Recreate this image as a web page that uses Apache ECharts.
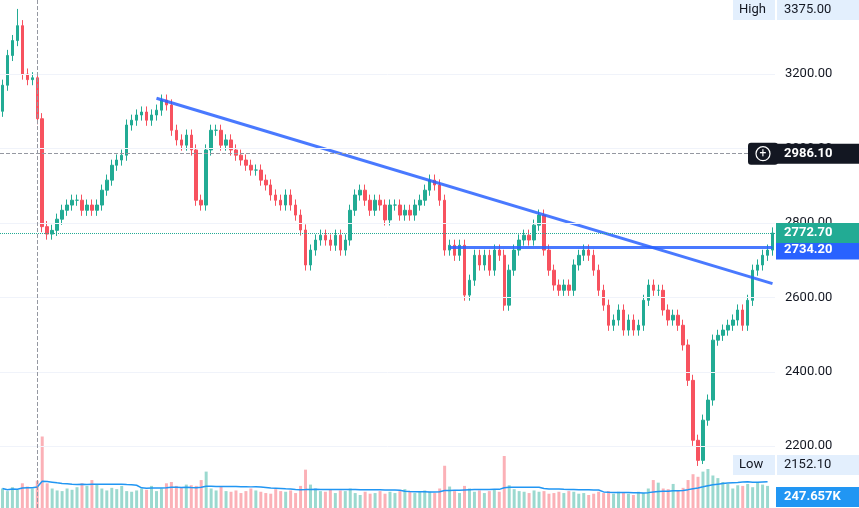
<!DOCTYPE html>
<html><head><meta charset="utf-8">
<script src="https://cdn.jsdelivr.net/npm/echarts@6/dist/echarts.min.js"></script>
<style>html,body{margin:0;padding:0;background:#fff}#c{width:859px;height:508px}</style>
</head><body><div id="c"></div>
<script>
const closes=[3170,3250,3290,3330,3200,3185,3190,3080,2790,2770,2780,2810,2834,2848,2861,2861,2834,2848,2834,2848,2888,2915,2955,2969,2982,3063,3076,3090,3098,3076,3090,3103,3130,3117,3049,3023,3009,3036,2996,2861,2848,2996,3049,3049,3009,3023,2996,2982,2969,2955,2942,2942,2915,2902,2875,2861,2848,2875,2848,2821,2781,2687,2727,2754,2767,2754,2740,2767,2727,2754,2834,2875,2888,2861,2834,2861,2848,2808,2848,2848,2821,2834,2821,2848,2861,2888,2915,2902,2861,2727,2740,2713,2740,2606,2646,2713,2687,2713,2673,2727,2713,2579,2673,2727,2754,2767,2754,2794,2821,2727,2673,2633,2619,2633,2619,2687,2713,2727,2713,2673,2619,2579,2525,2539,2566,2512,2539,2512,2525,2592,2633,2619,2619,2566,2539,2552,2525,2472,2377,2216,2162,2270,2324,2485,2498,2512,2525,2539,2566,2525,2592,2673,2687,2713,2727,2773];
const volumes=[300,260,320,280,380,330,300,420,1100,380,300,270,260,300,280,320,380,340,430,360,300,270,310,290,340,260,250,270,300,280,340,260,300,380,400,340,310,360,350,340,430,560,300,270,330,260,250,270,230,260,300,270,250,230,220,290,260,250,270,230,340,590,360,300,260,250,290,230,270,260,300,230,200,250,220,230,260,220,250,230,260,290,250,230,260,270,250,230,300,650,330,260,230,340,300,250,270,230,260,290,250,800,350,290,260,250,230,270,250,260,220,230,250,230,260,250,220,230,200,220,250,230,260,220,250,230,220,200,250,230,300,430,390,300,290,370,270,310,430,520,480,560,600,500,460,400,370,300,350,340,370,320,400,360,340];
const priceTicks=[2200,2400,2600,2800,3000,3200];
const opens=closes.map((c,i)=>i===0?3100:closes[i-1]);
const highs=closes.map((c,i)=>Math.max(c,opens[i])+15);
const lows=closes.map((c,i)=>Math.min(c,opens[i])-15);
highs[3]=3375; lows[141]=2152.1;
const cats=closes.map((c,i)=>String(i));
const ohlc=closes.map((c,i)=>[opens[i],c,lows[i],highs[i]]);
const volData=volumes.map((v,i)=>({value:v,itemStyle:{color:closes[i]>=opens[i]?'rgba(34,171,148,0.45)':'rgba(247,82,95,0.45)'}}));
const ma=volumes.map((v,i)=>{const s=volumes.slice(Math.max(0,i-19),i+1);return s.reduce((a,b)=>a+b,0)/s.length;});
const N=closes.length-1;
const chart=echarts.init(document.getElementById('c'));
chart.setOption({
 animation:false,
 grid:[{left:0,right:84,top:0,bottom:0},{left:0,right:84,top:430,bottom:0}],
 xAxis:[{type:'category',data:cats,gridIndex:0,axisLine:{show:false},axisTick:{show:false},axisLabel:{show:false},splitLine:{show:false}},
        {type:'category',data:cats,gridIndex:1,show:false}],
 yAxis:[{type:'value',position:'right',min:2034,max:3399,gridIndex:0,
   axisLine:{show:false},axisTick:{show:false,customValues:priceTicks},splitLine:{show:false},
   axisLabel:{customValues:priceTicks,color:'#131722',fontSize:13,fontFamily:'Roboto',margin:10,formatter:v=>v.toFixed(2)}},
   {type:'value',gridIndex:1,max:1200,min:0,show:false}],
 series:[
  {type:'candlestick',data:ohlc,barWidth:'60%',
   itemStyle:{color:'#22ab94',color0:'#f7525f',borderColor:'#22ab94',borderColor0:'#f7525f'},
   markLine:{symbol:'none',silent:true,label:{show:false},data:[
     [{coord:['31',3135]},{coord:[String(N),2637]}],
     [{coord:['90',2734.2]},{coord:[String(N),2734.2]}],
   ],lineStyle:{color:'#2962ff',width:3,type:'solid',opacity:0.85}}},
  {type:'line',data:[],markLine:{symbol:'none',silent:true,label:{show:false},data:
     priceTicks.map(v=>({yAxis:v,lineStyle:{color:'#f0f3fa',type:'solid',width:1}})).concat([
     {yAxis:2986.1,lineStyle:{color:'#9598a1',type:'dashed',width:1}},
     {yAxis:2772.7,lineStyle:{color:'#22ab94',type:'dotted',width:1}},
     {xAxis:'7',lineStyle:{color:'#9598a1',type:'dashed',width:1}}])}},
  {type:'bar',xAxisIndex:1,yAxisIndex:1,data:volData,barWidth:'60%'},
  {type:'line',xAxisIndex:1,yAxisIndex:1,data:ma,symbol:'none',lineStyle:{color:'#2196f3',width:1.5}}
 ]
});
const py=v=>chart.convertToPixel({yAxisIndex:0},v);
const tag=(y,txt,bg,fg,w)=>({type:'group',z:100,children:[
 {type:'rect',z:100,shape:{x:776,y:y-10,width:w||83,height:20},style:{fill:bg}},
 {type:'text',z:101,style:{x:784,y:y,text:txt,fill:fg,font:'bold 13px Roboto',verticalAlign:'middle'}}]});
chart.setOption({graphic:[
 {type:'rect',z:100,shape:{x:733,y:0,width:42,height:20},style:{fill:'#e3effd'}},
 {type:'text',z:101,style:{x:739,y:10,text:'High',fill:'#131722',font:'13px Roboto',verticalAlign:'middle'}},
 {type:'rect',z:100,shape:{x:777,y:0,width:82,height:20},style:{fill:'#e3effd'}},
 {type:'text',z:101,style:{x:784,y:10,text:'3375.00',fill:'#131722',font:'13px Roboto',verticalAlign:'middle'}},
 {type:'rect',z:100,shape:{x:748,y:py(2986.1)-11,width:30,height:22,r:3},style:{fill:'#131722'}},
 {type:'circle',z:101,shape:{cx:763,cy:py(2986.1),r:7},style:{fill:'none',stroke:'#fff',lineWidth:1.2}},
 {type:'text',z:101,style:{x:763,y:py(2986.1),text:'+',fill:'#fff',font:'12px Roboto',align:'center',verticalAlign:'middle'}},
 tag(py(2986.1),'2986.10','#131722','#fff'),
 tag(py(2734.2)+2,'2734.20','#2962ff','#fff'),
 tag(py(2772.7),'2772.70','#22ab94','#fff'),
 {type:'rect',z:100,shape:{x:733,y:455,width:42,height:20},style:{fill:'#e3effd'}},
 {type:'text',z:101,style:{x:739,y:465,text:'Low',fill:'#131722',font:'13px Roboto',verticalAlign:'middle'}},
 {type:'rect',z:100,shape:{x:777,y:455,width:82,height:20},style:{fill:'#e3effd'}},
 {type:'text',z:101,style:{x:784,y:465,text:'2152.10',fill:'#131722',font:'13px Roboto',verticalAlign:'middle'}},
 tag(497,'247.657K','#2196f3','#fff')
]});
</script></body></html>
